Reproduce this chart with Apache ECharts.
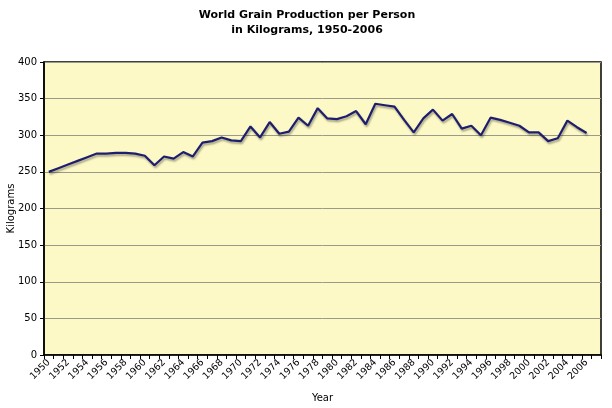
<!DOCTYPE html>
<html>
<head>
<meta charset="utf-8">
<script src="https://cdn.jsdelivr.net/npm/echarts@6/dist/echarts.min.js"></script>
<style>html,body{margin:0;padding:0;background:#fff}#c{width:612px;height:408px}</style>
</head>
<body>
<div id="c"></div>
<script>
var years = [];
for (var y = 1950; y <= 2007; y++) years.push(String(y));
var kilograms = [
  250, 255, 260, 265, 270, 275, 275, 276, 276, 275,
  272, 259, 271, 268, 277, 271, 290, 292, 297, 293,
  292, 312, 297, 318, 302, 305, 324, 313, 337, 323,
  322, 326, 333, 315, 343, 341, 339, 321, 304, 323,
  335, 320, 329, 309, 313, 300, 324, 321, 317, 313,
  304, 304, 292, 296, 320, 311, 303, null
];
var yTicks = [0, 50, 100, 150, 200, 250, 300, 350, 400];

var chart = echarts.init(document.getElementById('c'));
chart.setOption({
  animation: false,
  title: {
    text: 'World Grain Production per Person\nin Kilograms, 1950-2006',
    left: 302, top: 3, textAlign: 'center',
    textStyle: {fontFamily: 'DejaVu Sans', fontSize: 11, fontWeight: 'bold', color: '#000', lineHeight: 15}
  },
  grid: {left: 44, right: 11, top: 62, bottom: 53, outerBoundsMode: 'none', containLabel: false, show: true, backgroundColor: '#fdf9c6', borderColor: '#000', borderWidth: 1.5},
  xAxis: {
    type: 'category', data: years, boundaryGap: true,
    name: 'Year', nameLocation: 'middle', nameGap: 38, nameMoveOverlap: false,
    nameTextStyle: {fontFamily: 'DejaVu Sans', fontSize: 10, color: '#000'},
    axisLine: {lineStyle: {color: '#000', width: 1.5}},
    axisTick: {show: true, interval: 0, length: 4, lineStyle: {color: '#000'}},
    axisLabel: {interval: 1, rotate: 45, fontFamily: 'DejaVu Sans', fontSize: 9.5, color: '#000', margin: 6}
  },
  yAxis: {
    type: 'value', min: yTicks[0], max: yTicks[yTicks.length - 1], interval: 50,
    name: 'Kilograms', nameLocation: 'middle', nameGap: 28, nameRotate: 90, nameMoveOverlap: false,
    nameTextStyle: {fontFamily: 'DejaVu Sans', fontSize: 10, color: '#000'},
    axisLine: {show: true, lineStyle: {color: '#000', width: 1.5}},
    axisTick: {show: true, length: 4, lineStyle: {color: '#000'}},
    axisLabel: {fontFamily: 'DejaVu Sans', fontSize: 10, color: '#000', margin: 7},
    splitLine: {lineStyle: {color: '#9a9a88', width: 1}}
  },
  series: [{
    type: 'line', data: kilograms, symbol: 'none', connectNulls: false,
    lineStyle: {color: '#1e1e6e', width: 2.2, shadowColor: 'rgba(0,0,0,0.35)', shadowBlur: 2, shadowOffsetX: 1, shadowOffsetY: 2}
  }]
});
</script>
</body>
</html>
